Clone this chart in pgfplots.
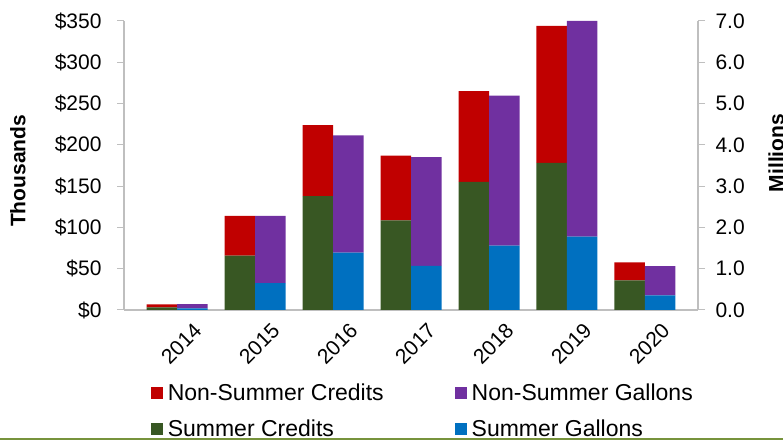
\documentclass[border=0pt]{standalone}
\usepackage{pgfplots}
\pgfplotsset{compat=1.18}
\usepackage{fontspec}
\setmainfont{Liberation Sans}
\definecolor{cred}{HTML}{C00000}
\definecolor{cpurple}{HTML}{7030A0}
\definecolor{cgreen}{HTML}{385723}
\definecolor{cblue}{HTML}{0070C0}
\definecolor{lgreen}{HTML}{77933C}
\definecolor{axgray}{HTML}{BFBFBF}

\pgfplotstableread{
x sc nsc sg nsg
0 3.3 3.6 0.04 0.105
1 65.7 48.3 0.65 1.63
2 138 86 1.39 2.84
3 108.6 78.2 1.07 2.63
4 155.3 109.7 1.56 3.63
5 178.3 165.7 1.78 5.22
6 36 21.7 0.355 0.71
}\datatable

\begin{document}
\begin{tikzpicture}[x=1bp,y=1bp]
\useasboundingbox (0,0) rectangle (783,441);
\draw[lgreen, line width=2bp] (0,2) -- (783,2);

\pgfplotsset{
  common/.style={
    at={(124bp,131bp)}, anchor=south west,
    scale only axis, width=574bp, height=289bp,
    xmin=-0.68, xmax=6.68, ymin=0,
    ybar stacked, bar width=30.5bp,
    axis line style={axgray, line width=1.2bp},
    tick align=outside, major tick length=7bp,
    ytick style={axgray, line width=1bp},
    xtick style={draw=none},
    /pgf/number format/assume math mode=true,
    tick label style={font=\fontsize{21bp}{25bp}\selectfont},
    label style={font=\fontsize{21bp}{25bp}\selectfont\bfseries},
  }
}

\begin{axis}[common,
  ymax=350,
  axis x line*=bottom, axis y line*=left,
  xtick={0,...,6}, xticklabels={2014,2015,2016,2017,2018,2019,2020},
  xticklabel style={rotate=45, anchor=east, xshift=11bp, yshift=-22bp},
  ytick={0,50,...,350},
  yticklabel={\$\pgfmathprintnumber{\tick}},
  yticklabel style={xshift=-12bp},
  ylabel={Thousands},
  ylabel style={at={(axis description cs:-0.185,0.481)}, anchor=center},
]
\addplot[fill=cgreen, draw=none, bar shift=-15.25bp] table[x=x, y=sc] {\datatable};
\addplot[fill=cred, draw=none, bar shift=-15.25bp] table[x=x, y=nsc] {\datatable};
\end{axis}

\begin{axis}[common,
  ymax=7,
  axis x line=none, axis y line*=right,
  ytick={0,1,...,7},
  yticklabel style={/pgf/number format/fixed, /pgf/number format/fixed zerofill, /pgf/number format/precision=1, xshift=7bp},
  ylabel={Millions},
  ylabel style={at={(axis description cs:1.136,0.543)}, anchor=center, rotate=0},
  legend columns=2,
  legend cell align=left,
  legend style={at={(axis description cs:0.0465,-0.254)}, anchor=north west, draw=none, fill=none, inner sep=0pt,
    font=\fontsize{23bp}{27bp}\selectfont,
    nodes={inner sep=0pt},
    /tikz/every odd column/.append style={column sep=5bp},
    /tikz/every even column/.append style={column sep=71bp}, row sep=18bp},
]
\addlegendimage{legend image code/.code={\fill[cred] (0bp,-5.75bp) rectangle (11.5bp,5.75bp);}}
\addlegendentry{Non-Summer Credits}
\addlegendimage{legend image code/.code={\fill[cpurple] (0bp,-5.75bp) rectangle (11.5bp,5.75bp);}}
\addlegendentry{Non-Summer Gallons}
\addlegendimage{legend image code/.code={\fill[cgreen] (0bp,-5.75bp) rectangle (11.5bp,5.75bp);}}
\addlegendentry{Summer Credits}
\addlegendimage{legend image code/.code={\fill[cblue] (0bp,-5.75bp) rectangle (11.5bp,5.75bp);}}
\addlegendentry{Summer Gallons}
\addplot[fill=cblue, draw=none, bar shift=15.25bp, forget plot] table[x=x, y=sg] {\datatable};
\addplot[fill=cpurple, draw=none, bar shift=15.25bp, forget plot] table[x=x, y=nsg] {\datatable};
\end{axis}
\end{tikzpicture}
\end{document}
